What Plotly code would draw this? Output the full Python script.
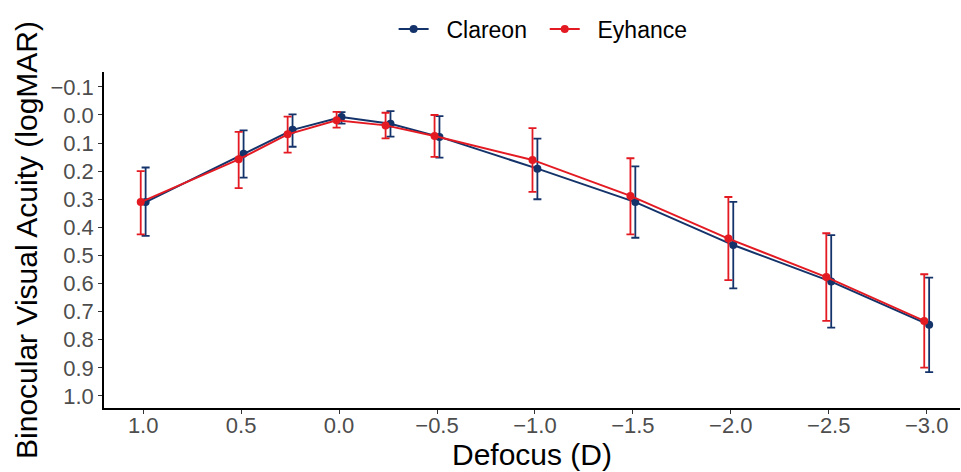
import plotly.graph_objects as go

defocus = [1.0, 0.5, 0.25, 0.0, -0.25, -0.5, -1.0, -1.5, -2.0, -2.5, -3.0]

clareon_mean = [0.31, 0.138, 0.053, 0.007, 0.031, 0.078, 0.191, 0.31, 0.463, 0.593, 0.747]
clareon_low = [0.187, 0.055, -0.002, -0.01, -0.014, 0.004, 0.084, 0.183, 0.309, 0.428, 0.579]
clareon_high = [0.43, 0.223, 0.113, 0.031, 0.077, 0.152, 0.30, 0.437, 0.617, 0.757, 0.915]

eyhance_mean = [0.31, 0.158, 0.069, 0.019, 0.037, 0.075, 0.16, 0.288, 0.44, 0.577, 0.733]
eyhance_low = [0.2, 0.06, 0.006, -0.011, -0.008, 0.0, 0.047, 0.154, 0.292, 0.421, 0.567]
eyhance_high = [0.425, 0.26, 0.134, 0.045, 0.083, 0.149, 0.274, 0.425, 0.588, 0.733, 0.899]

x_ticks = [1.0, 0.5, 0.0, -0.5, -1.0, -1.5, -2.0, -2.5, -3.0]
x_ticklabels = ["1.0", "0.5", "0.0", "\u22120.5", "\u22121.0", "\u22121.5", "\u22122.0", "\u22122.5", "\u22123.0"]
y_ticks = [-0.1, 0.0, 0.1, 0.2, 0.3, 0.4, 0.5, 0.6, 0.7, 0.8, 0.9, 1.0]
y_ticklabels = ["\u22120.1"] + [f"{v:.1f}" for v in y_ticks[1:]]

NAVY = "#14336a"
RED = "#e41a23"
DODGE = 0.0125
PAD = "\u00a0\u00a0"

fig = go.Figure()

def add_series(name, mean, low, high, color, offset, tail=""):
    fig.add_trace(go.Scatter(
        x=[d + offset for d in defocus], y=mean, name=PAD + name + tail,
        mode="lines+markers",
        line=dict(color=color, width=2),
        marker=dict(color=color, size=8),
        error_y=dict(type="data", symmetric=False,
                     array=[h - m for h, m in zip(high, mean)],
                     arrayminus=[m - l for m, l in zip(mean, low)],
                     color=color, thickness=1.8, width=4),
    ))

add_series("Clareon", clareon_mean, clareon_low, clareon_high, NAVY, -DODGE, tail="\u00a0\u00a0")
add_series("Eyhance", eyhance_mean, eyhance_low, eyhance_high, RED, DODGE)

fig.update_layout(
    width=961, height=472,
    margin=dict(l=104, r=1, t=72, b=64),
    paper_bgcolor="white", plot_bgcolor="white",
    font=dict(family="Liberation Sans, Arial, sans-serif"),
    showlegend=True,
    legend=dict(orientation="h", x=0.513, xanchor="center",
                y=1 - 29 / 472, yanchor="middle", yref="container",
                font=dict(size=23, color="black")),
    xaxis=dict(
        range=[1.2, -3.17], tickvals=x_ticks, ticktext=x_ticklabels,
        showgrid=False, zeroline=False, showline=True, linecolor="black", linewidth=1.5,
        ticks="outside", ticklen=4, tickcolor="#333333", tickwidth=1.2,
        ticklabelstandoff=-7,
        tickfont=dict(size=22, color="#4d4d4d"),
        title=dict(text="Defocus (D)", font=dict(size=30, color="black"), standoff=2),
    ),
    yaxis=dict(
        range=[1.043, -0.153], tickvals=y_ticks, ticktext=y_ticklabels,
        showgrid=False, zeroline=False, showline=True, linecolor="black", linewidth=1.5,
        ticks="outside", ticklen=4, tickcolor="#333333", tickwidth=1.2,
        tickfont=dict(size=22, color="#4d4d4d"),
        title=dict(text="Binocular Visual Acuity (logMAR)", font=dict(size=30, color="black"), standoff=4),
    ),
)

fig.write_html("out.html")
